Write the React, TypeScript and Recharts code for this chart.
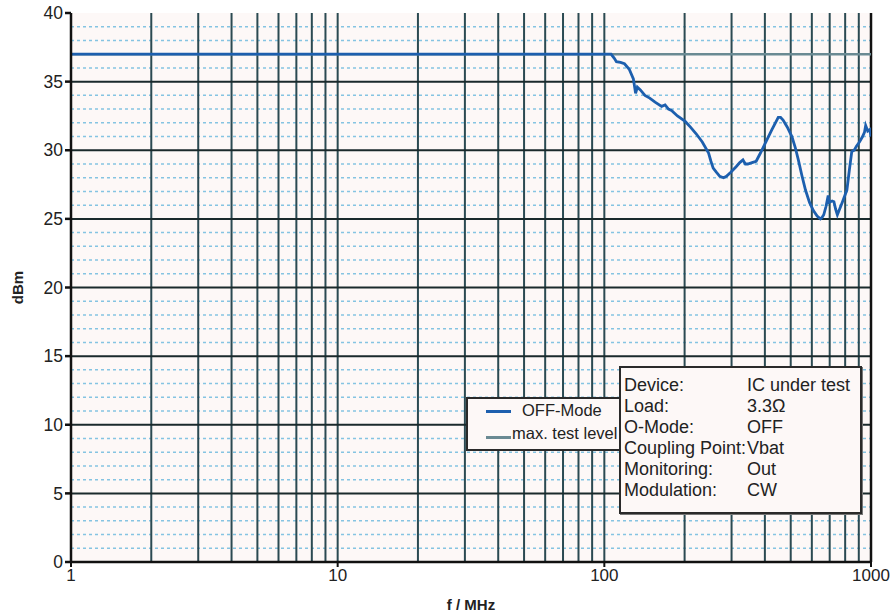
import React from 'react';
import { LineChart, Line, XAxis, YAxis, ReferenceLine } from 'recharts';

const freqOff = [1, 106, 109, 111, 115, 119, 124, 128.5, 131, 133, 136.5, 142, 148, 155, 164, 169, 174, 178.6, 188, 201, 210, 221, 233, 246, 251, 256, 263, 271, 280, 287, 298, 312, 322, 331, 338, 345, 358, 371, 385, 401, 425, 449, 458, 468, 485, 505, 520, 534, 550, 568, 588, 608, 628, 646, 655, 665, 678, 691, 697, 705, 715, 726, 737, 748, 780, 812, 830, 847, 865, 882, 905, 930, 945, 955, 972, 990, 1000];
const dbmOff = [37, 37, 36.7, 36.45, 36.4, 36.3, 35.9, 35.2, 34.15, 34.6, 34.4, 34.0, 33.8, 33.5, 33.2, 33.3, 33.0, 32.9, 32.5, 32.1, 31.7, 31.2, 30.6, 29.8, 29.2, 28.7, 28.4, 28.1, 28.0, 28.1, 28.4, 28.8, 29.1, 29.3, 29.0, 29.0, 29.1, 29.2, 29.8, 30.5, 31.5, 32.4, 32.4, 32.2, 31.7, 31.0, 30.2, 29.3, 28.2, 27.1, 26.2, 25.6, 25.2, 25.0, 25.1, 25.3, 25.9, 26.7, 26.2, 26.25, 26.3, 26.25, 25.7, 25.3, 26.2, 27.1, 28.6, 29.9, 30.0, 30.3, 30.6, 31.0, 31.3, 31.8, 31.4, 31.5, 31.0];
const freqLimit = [1, 1000];
const dbmLimit = [37, 37];

const xTicks = [1, 10, 100, 1000];
const yTicks = [0, 5, 10, 15, 20, 25, 30, 35, 40];
const xGrid = [2, 3, 4, 5, 6, 7, 8, 9, 10, 20, 30, 40, 50, 60, 70, 80, 90, 100, 200, 300, 400, 500, 600, 700, 800, 900];
const yMajorGrid = [5, 10, 15, 20, 25, 30, 35];
const yMinorGrid = [1, 2, 3, 4, 6, 7, 8, 9, 11, 12, 13, 14, 16, 17, 18, 19, 21, 22, 23, 24, 26, 27, 28, 29, 31, 32, 33, 34, 36, 37, 38, 39];

const seriesNames = ['OFF-Mode', 'max. test level'];
const infoLabels = ['Device:', 'Load:', 'O-Mode:', 'Coupling Point:', 'Monitoring:', 'Modulation:'];
const infoValues = ['IC under test', '3.3\u03A9', 'OFF', 'Vbat', 'Out', 'CW'];

const offData = freqOff.map((f, i) => ({ f, v: dbmOff[i] }));
const limitData = freqLimit.map((f, i) => ({ f, v: dbmLimit[i] }));

const FONT = '"Liberation Sans", Arial, sans-serif';
const BLUE = '#1d5fae';
const GRAY = '#6a8a93';

export default function App() {
  return (
    <div style={{ position: 'absolute', left: 0, top: 0, width: 893, height: 616, background: '#ffffff', fontFamily: FONT }}>
      <LineChart
        width={893}
        height={616}
        margin={{ top: 13, right: 22, bottom: 24, left: 21 }}
        style={{ fontFamily: FONT }}
      >
        <rect x={71} y={13} width={800} height={549} fill="#fdf8f7" />
        <XAxis
          dataKey="f"
          type="number"
          scale="log"
          domain={[1, 1000]}
          ticks={xTicks}
          allowDataOverflow
          height={30}
          tickSize={5}
          tick={{ fill: '#222', fontSize: 17, fontFamily: FONT }}
          axisLine={{ stroke: '#111', strokeWidth: 2.5 }}
          tickLine={{ stroke: '#111', strokeWidth: 2 }}
          label={{
            content: (props: any) => {
              const vb = props.viewBox;
              return (
                <text x={vb.x + vb.width / 2} y={vb.y + 48} textAnchor="middle" fontSize={15} fontWeight="bold" fill="#222" fontFamily={FONT}>
                  f / MHz
                </text>
              );
            },
          }}
        />
        <YAxis
          type="number"
          domain={[0, 40]}
          ticks={yTicks}
          width={50}
          tickSize={6}
          tick={{ fill: '#222', fontSize: 17.5, fontFamily: FONT }}
          axisLine={{ stroke: '#111', strokeWidth: 2.5 }}
          tickLine={{ stroke: '#111', strokeWidth: 2.5 }}
          label={{
            content: (props: any) => {
              const vb = props.viewBox;
              const cx = vb.x - 4;
              const cy = vb.y + vb.height / 2;
              return (
                <text x={cx} y={cy} transform={`rotate(-90 ${cx} ${cy})`} textAnchor="middle" dominantBaseline="central" fontSize={15} fontWeight="bold" fill="#222" fontFamily={FONT}>
                  dBm
                </text>
              );
            },
          }}
        />
        {yMinorGrid.map((y) => (
          <ReferenceLine key={'ym' + y} y={y} stroke="#85c4e2" strokeWidth={1.5} strokeDasharray="3 3" />
        ))}
        {xGrid.map((x) => (
          <ReferenceLine key={'xg' + x} x={x} stroke="#2b4a52" strokeWidth={2} />
        ))}
        {yMajorGrid.map((y) => (
          <ReferenceLine key={'yg' + y} y={y} stroke="#1a2a2c" strokeWidth={2} />
        ))}
        <ReferenceLine x={1000} stroke="#111" strokeWidth={2.5} />
        <Line
          data={limitData}
          dataKey="v"
          name={seriesNames[1]}
          stroke={GRAY}
          strokeWidth={2.5}
          dot={false}
          isAnimationActive={false}
        />
        <Line
          data={offData}
          dataKey="v"
          name={seriesNames[0]}
          stroke={BLUE}
          strokeWidth={2.8}
          dot={false}
          type="linear"
          isAnimationActive={false}
        />
      </LineChart>

      <div
        style={{
          position: 'absolute', left: 466, top: 397, width: 160, height: 54,
          border: '2px solid #2a2a2a', background: '#fdf8f7', boxSizing: 'border-box',
          fontSize: 16.5, color: '#222',
        }}
      >
        <div style={{ position: 'absolute', left: 18, top: 11, width: 25, height: 3, background: BLUE }} />
        <div style={{ position: 'absolute', left: 54, top: 2, lineHeight: '19px' }}>{seriesNames[0]}</div>
        <div style={{ position: 'absolute', left: 18, top: 37, width: 25, height: 3, background: GRAY }} />
        <div style={{ position: 'absolute', left: 44, top: 25, lineHeight: '19px', whiteSpace: 'nowrap' }}>{seriesNames[1]}</div>
      </div>

      <div
        style={{
          position: 'absolute', left: 619, top: 366, width: 243, height: 148,
          border: '2px solid #2a2a2a', background: '#fdf8f7', boxSizing: 'border-box',
          boxShadow: '1px 1px 0 #777', fontSize: 18, color: '#222', paddingTop: 7, paddingLeft: 3,
        }}
      >
        {infoLabels.map((l, i) => (
          <div key={l} style={{ display: 'flex', height: 21, lineHeight: '21px', whiteSpace: 'nowrap' }}>
            <span style={{ width: 123, display: 'inline-block', overflow: 'visible' }}>{l}</span>
            <span>{infoValues[i]}</span>
          </div>
        ))}
      </div>
    </div>
  );
}
